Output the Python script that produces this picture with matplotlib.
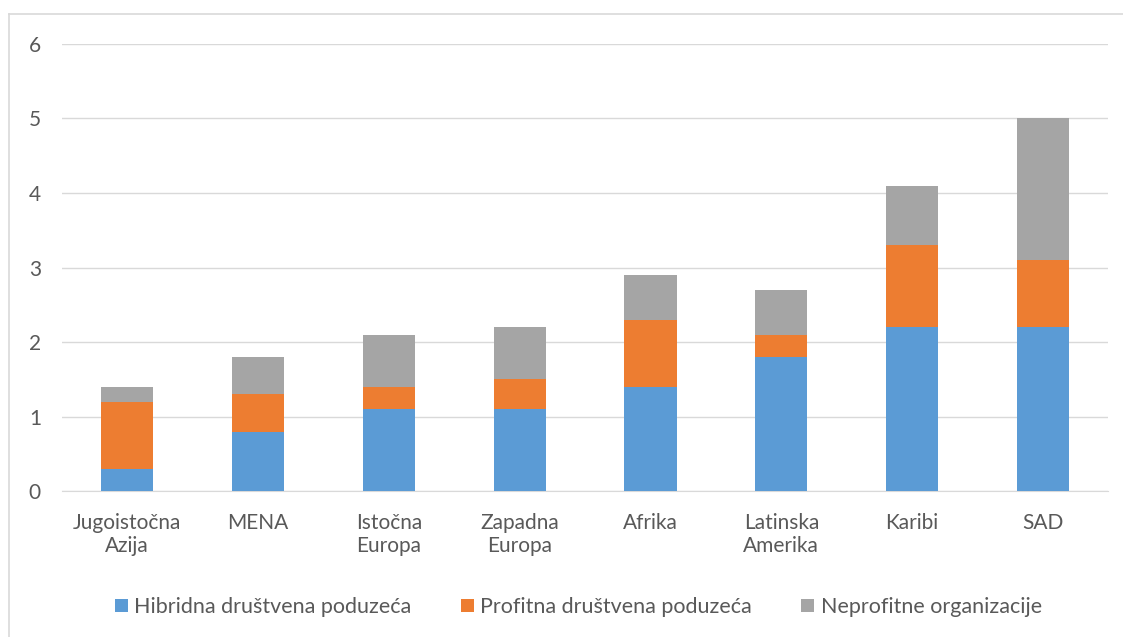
import numpy as np
import matplotlib.pyplot as plt
from matplotlib.lines import Line2D

plt.rcParams['font.family'] = ['Lato', 'DejaVu Sans']

regije = ["Jugoistočna\nAzija", "MENA", "Istočna\nEuropa", "Zapadna\nEuropa",
          "Afrika", "Latinska\nAmerika", "Karibi", "SAD"]
hibridna = [0.3, 0.8, 1.1, 1.1, 1.4, 1.8, 2.2, 2.2]
profitna = [0.9, 0.5, 0.3, 0.4, 0.9, 0.3, 1.1, 0.9]
neprofitne = [0.2, 0.5, 0.7, 0.7, 0.6, 0.6, 0.8, 1.9]
serije = ["Hibridna društvena poduzeća", "Profitna društvena poduzeća",
          "Neprofitne organizacije"]
boje = ["#5B9BD5", "#ED7D31", "#A5A5A5"]

fig = plt.figure(figsize=(11.23, 6.37), dpi=100)
ax = fig.add_axes([0.055, 0.229, 0.932, 0.702])

x = np.arange(len(regije))
dno = np.zeros(len(regije))
for vrijednosti, naziv, boja in zip([hibridna, profitna, neprofitne], serije, boje):
    ax.bar(x, vrijednosti, 0.4, bottom=dno, color=boja, label=naziv, zorder=3)
    dno += np.array(vrijednosti)

ax.set_ylim(0, 6)
ax.set_xlim(-0.5, len(regije) - 0.5)
ax.set_yticks(range(0, 7))
ax.set_xticks(x)
ax.set_xticklabels(regije, linespacing=1.15)
ax.grid(axis="y", color="#D9D9D9", linewidth=1, zorder=0)
for s in ["top", "right", "left"]:
    ax.spines[s].set_visible(False)
ax.spines["bottom"].set_color("#D9D9D9")
ax.tick_params(axis="both", length=0, labelsize=15, colors="#595959")
ax.tick_params(axis="x", pad=16)
ax.tick_params(axis="y", pad=15)

fig.legend(loc="center", bbox_to_anchor=(0.515, 0.047), ncol=3, frameon=False,
           fontsize=15.5, handlelength=0.6, handleheight=0.6, handletextpad=0.3,
           columnspacing=2.3, labelcolor="#595959")

# okvir slike
fig.add_artist(Line2D([9 / 1123, 1], [1 - 14 / 637, 1 - 14 / 637], color="#D9D9D9", lw=1.2,
                      transform=fig.transFigure))
fig.add_artist(Line2D([9 / 1123, 9 / 1123], [0, 1 - 14 / 637], color="#D9D9D9", lw=1.2,
                      transform=fig.transFigure))

fig.savefig("out.png", dpi=100)
